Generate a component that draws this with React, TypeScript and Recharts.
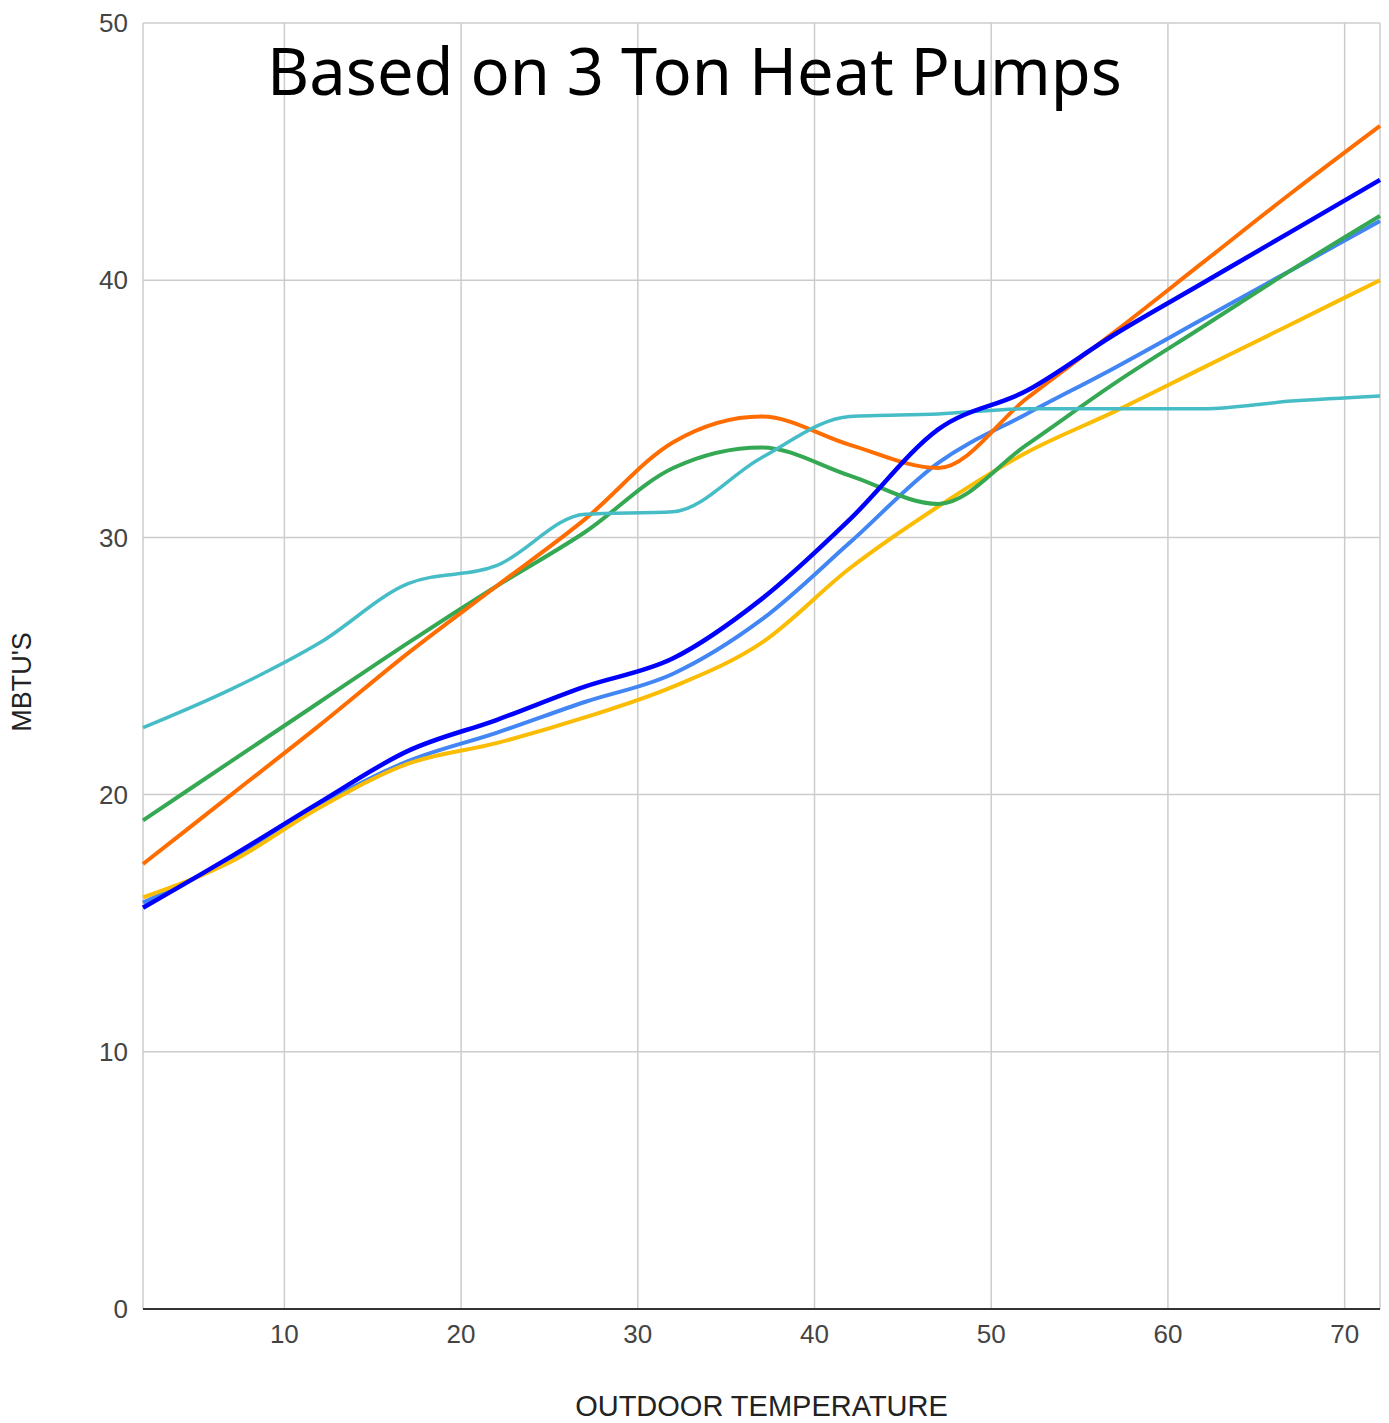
import React from 'react';
import { LineChart, Line, XAxis, YAxis, CartesianGrid } from 'recharts';

// outdoor temperature (°F) and capacity (MBTU) per heat pump model
const temps = [2, 7, 12, 17, 22, 27, 32, 37, 42, 47, 52, 57, 62, 67, 72];
const cyanSeries = [22.6, 24.1, 25.9, 28.2, 28.9, 30.9, 31.0, 33.1, 34.7, 34.8, 35.0, 35.0, 35.0, 35.3, 35.5];
const orangeSeries = [17.3, 20.0, 22.7, 25.5, 28.1, 30.7, 33.7, 34.7, 33.6, 32.7, 35.4, 38.0, 40.7, 43.4, 46.0];
const greenSeries = [19.0, 21.3, 23.6, 25.9, 28.1, 30.2, 32.7, 33.5, 32.4, 31.3, 33.6, 36.0, 38.2, 40.4, 42.5];
const blueSeries = [15.6, 17.6, 19.7, 21.7, 22.9, 24.2, 25.3, 27.6, 30.7, 34.2, 35.7, 37.9, 39.9, 41.9, 43.9];
const lightBlueSeries = [15.8, 17.5, 19.6, 21.3, 22.4, 23.6, 24.7, 26.8, 29.8, 32.9, 34.8, 36.6, 38.5, 40.4, 42.3];
const yellowSeries = [16.0, 17.4, 19.5, 21.2, 22.0, 23.0, 24.2, 25.9, 28.8, 31.2, 33.3, 34.9, 36.6, 38.3, 40.0];

const xTicks = [10, 20, 30, 40, 50, 60, 70];
const yTicks = [0, 10, 20, 30, 40, 50];

const series = [
  { key: 'lightBlue', values: lightBlueSeries, color: '#4285F4', width: 4 },
  { key: 'yellow', values: yellowSeries, color: '#FBBC04', width: 4 },
  { key: 'green', values: greenSeries, color: '#34A853', width: 4 },
  { key: 'orange', values: orangeSeries, color: '#FF6D01', width: 4 },
  { key: 'cyan', values: cyanSeries, color: '#46BDC6', width: 3.5 },
  { key: 'blue', values: blueSeries, color: '#0000FF', width: 4.5 },
];

const data = temps.map((t, i) => {
  const row: Record<string, number> = { temp: t };
  series.forEach(s => {
    row[s.key] = s.values[i];
  });
  return row;
});

const axisFont = '"Liberation Sans", Arial, sans-serif';

const YTitle = ({ viewBox }: any) => {
  const x = viewBox.x + 22;
  const y = viewBox.y + viewBox.height / 2 + 16;
  return (
    <text
      x={x}
      y={y}
      transform={`rotate(-90, ${x}, ${y})`}
      textAnchor="middle"
      dominantBaseline="central"
      fontFamily={axisFont}
      fontSize={27}
      fill="#222"
    >
      MBTU'S
    </text>
  );
};

const App: React.FC = () => {
  return (
    <div style={{ position: 'absolute', left: 0, top: 0, width: 1389, height: 1423, background: '#fff' }}>
      <LineChart
        width={1389}
        height={1423}
        data={data}
        margin={{ top: 23, right: 9, bottom: 0, left: 0 }}
      >
        <CartesianGrid stroke="#cccccc" strokeWidth={1.5} />
        <XAxis
          dataKey="temp"
          type="number"
          domain={[2, 72]}
          ticks={xTicks}
          height={114}
          tickLine={false}
          tickMargin={10}
          axisLine={{ stroke: '#333333', strokeWidth: 2 }}
          tick={{ fill: '#444', fontSize: 26, fontFamily: axisFont }}
          label={{
            value: 'OUTDOOR TEMPERATURE',
            position: 'insideBottom',
            offset: 7,
            fill: '#222',
            fontSize: 29,
            fontFamily: axisFont,
          }}
        />
        <YAxis
          type="number"
          domain={[0, 50]}
          ticks={yTicks}
          width={143}
          tickLine={false}
          axisLine={false}
          tickMargin={9}
          tick={{ fill: '#444', fontSize: 26, fontFamily: axisFont }}
          label={<YTitle />}
        />
        {series.map(s => (
          <Line
            key={s.key}
            dataKey={s.key}
            type="monotone"
            stroke={s.color}
            strokeWidth={s.width}
            dot={false}
            activeDot={false}
            isAnimationActive={false}
          />
        ))}
      </LineChart>
      <svg
        width={1389}
        height={140}
        style={{ position: 'absolute', left: 0, top: 0, pointerEvents: 'none' }}
      >
        <text
          x={694.5}
          y={95}
          textAnchor="middle"
          fontFamily='"Noto Sans", "Open Sans", sans-serif'
          fontSize={65}
          fill="#000"
        >
          Based on 3 Ton Heat Pumps
        </text>
      </svg>
    </div>
  );
};

export default App;
